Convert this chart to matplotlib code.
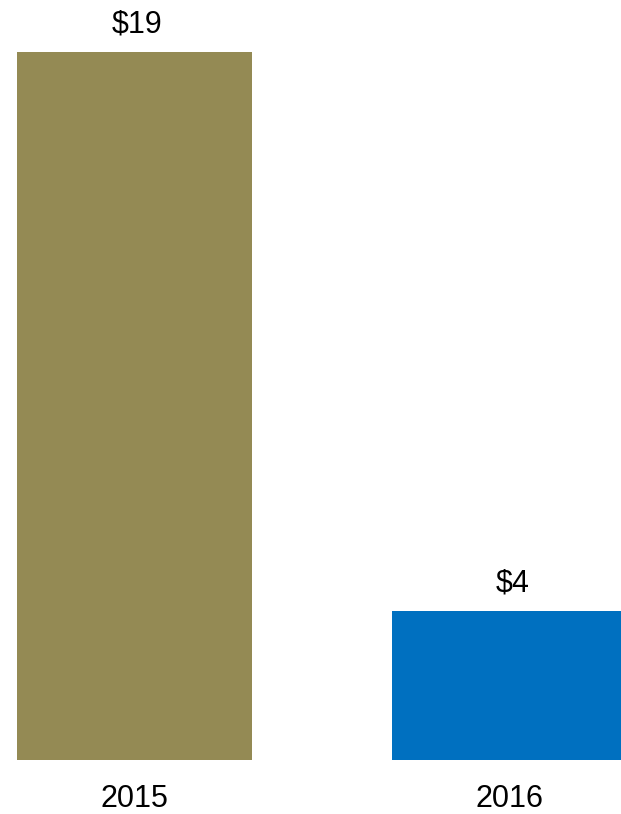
import matplotlib
matplotlib.use('Agg')
import matplotlib.pyplot as plt

plt.rcParams['font.family'] = ['Liberation Sans', 'DejaVu Sans']

# Values per year
years = ['2015', '2016']
values = [19, 4]
labels = ['$19', '$4']
colors = ['#948A54', '#0070C0']

fig = plt.figure(figsize=(6.21, 8.14), dpi=100)
ax = fig.add_axes([0, 54 / 814, 1, 760 / 814])

x = [0, 1]
ax.bar(x, values, width=0.627, color=colors)

for xi, v, lab in zip(x, values, labels):
    ax.annotate(lab, xy=(xi, v), xytext=(2, 9), textcoords='offset points',
                ha='center', va='bottom', fontsize=22, color='black')

ax.set_xlim(-0.3587, 1.2973)
ax.set_ylim(0, 20.4)
ax.set_xticks(x)
ax.set_xticklabels(years, fontsize=22)
ax.tick_params(axis='x', length=0, pad=17)
ax.set_yticks([])
for s in ax.spines.values():
    s.set_visible(False)

fig.savefig('out.png', dpi=100)
